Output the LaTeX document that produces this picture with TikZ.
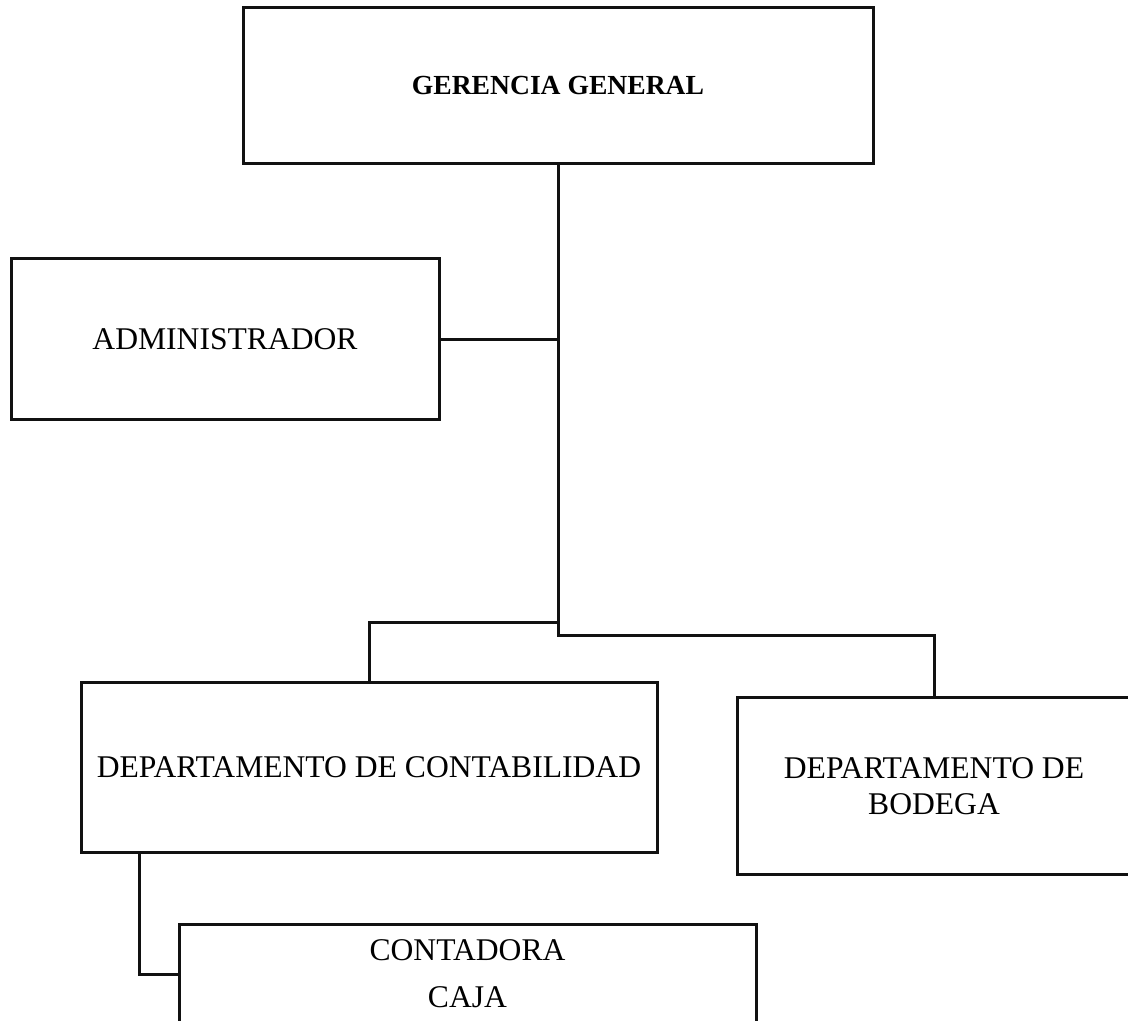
\documentclass[tikz,border=0pt]{standalone}
\usepackage{fontspec}
\setmainfont{Liberation Serif}
\usepackage{xcolor}
\usepackage{tikz}
\tikzset{unit/.style={draw=lineblack,line width=1.5pt,fill=white,align=center,
font=\fontsize{15.8}{17.7}\selectfont},
link/.style={lineblack,line width=1.5pt}}
\definecolor{lineblack}{HTML}{111111}

\begin{document}
\begin{tikzpicture}[x=.5pt,y=-.5pt]
\useasboundingbox (0,0) rectangle (1128,1021);
\node[unit,minimum width=315pt,minimum height=78pt,font=\bfseries\fontsize{13.8}{16}\selectfont] (ger) at (558,86) {GERENCIA GENERAL};
\node[unit,minimum width=214pt,minimum height=80pt] (adm) at (225,339) {ADMINISTRADOR};
\node[unit,minimum width=288pt,minimum height=85pt] (cont) at (369,767) {DEPARTAMENTO DE CONTABILIDAD};
\node[unit,minimum width=197pt,minimum height=88.5pt] (bod) at (934,786) {DEPARTAMENTO DE\\BODEGA};
\node[unit,minimum width=288.5pt,minimum height=50pt,font=\fontsize{15.8}{23.5}\selectfont] (caj) at (467.5,974) {CONTADORA\\CAJA};
% joints on the main line
\coordinate (jl) at (558,622);
\coordinate (jr) at (558,635);
\draw[link] (ger.south) -- (jr) -| (bod.north);
\draw[link] (adm.east) -- (adm.east -| ger.south);
\draw[link] (jl) -| (cont.north);
\draw[link] ([xshift=30pt]cont.south west) |- (caj.west);
\end{tikzpicture}
\end{document}
